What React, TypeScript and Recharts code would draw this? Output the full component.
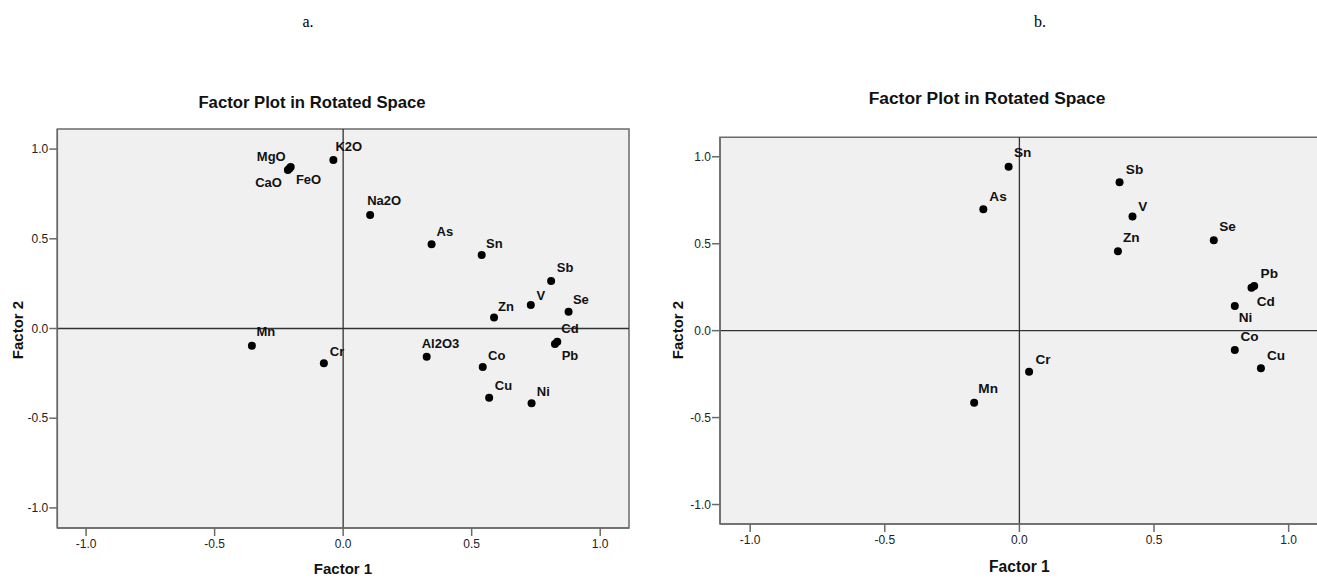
import { ScatterChart, Scatter, XAxis, YAxis, ReferenceArea, ReferenceLine } from 'recharts';

// panel a: loadings of oxides + trace elements
const NAMES_A = ['K2O', 'MgO', 'FeO', 'CaO', 'Na2O', 'As', 'Sn', 'Sb', 'V', 'Se', 'Zn', 'Cd', 'Pb', 'Al2O3', 'Co', 'Cu', 'Ni', 'Mn', 'Cr'];
const F1_A = [-0.038, -0.204, -0.209, -0.215, 0.105, 0.344, 0.539, 0.809, 0.730, 0.877, 0.587, 0.833, 0.824, 0.325, 0.543, 0.568, 0.733, -0.355, -0.075];
const F2_A = [0.939, 0.900, 0.892, 0.884, 0.633, 0.469, 0.410, 0.265, 0.131, 0.094, 0.062, -0.074, -0.086, -0.157, -0.215, -0.386, -0.417, -0.096, -0.194];

// panel b: trace elements only
const NAMES_B = ['Sn', 'As', 'Sb', 'V', 'Zn', 'Se', 'Pb', 'Cd', 'Ni', 'Co', 'Cu', 'Cr', 'Mn'];
const F1_B = [-0.040, -0.134, 0.372, 0.420, 0.366, 0.722, 0.872, 0.862, 0.800, 0.800, 0.897, 0.036, -0.168];
const F2_B = [0.943, 0.698, 0.853, 0.656, 0.457, 0.520, 0.257, 0.247, 0.142, -0.111, -0.216, -0.237, -0.414];

const TICKS = [-1, -0.5, 0, 0.5, 1];
const DOMAIN: [number, number] = [-1.112, 1.112];

// label offsets [dx, dy, anchor] relative to the dot
type Pos = [number, number, 'start' | 'end'];
const LABELS_A: Record<string, Pos> = {
  K2O: [2, -9.5, 'start'],
  MgO: [-5, -6.4, 'end'],
  CaO: [-6, 17.3, 'end'],
  FeO: [6.5, 15.5, 'start'],
  Na2O: [-3, -9.5, 'start'],
  As: [5, -8, 'start'],
  Sn: [4.3, -7, 'start'],
  Sb: [5.7, -8.7, 'start'],
  V: [5.7, -5.4, 'start'],
  Se: [4.3, -7.7, 'start'],
  Zn: [4, -6.7, 'start'],
  Cd: [4, -8.7, 'start'],
  Pb: [6.7, 15.6, 'start'],
  Al2O3: [-5, -8.5, 'start'],
  Co: [5.3, -7.3, 'start'],
  Cu: [5.7, -8, 'start'],
  Ni: [5.3, -7, 'start'],
  Mn: [4.6, -9.3, 'start'],
  Cr: [6, -7, 'start'],
};
const LABELS_B: Record<string, Pos> = {
  Sn: [5.4, -9.4, 'start'],
  As: [6, -8, 'start'],
  Sb: [6.3, -8.3, 'start'],
  V: [5.8, -5.4, 'start'],
  Zn: [5, -8.7, 'start'],
  Se: [5.5, -9, 'start'],
  Pb: [6.4, -8, 'start'],
  Cd: [5.3, 18, 'start'],
  Ni: [4, 16, 'start'],
  Co: [5.7, -9, 'start'],
  Cu: [6, -8.7, 'start'],
  Cr: [6.3, -8, 'start'],
  Mn: [4.2, -9.7, 'start'],
};

const FONT = '"Liberation Sans", Arial, sans-serif';
const BOX = '#6a6a6a';

const toRows = (names: string[], f1: number[], f2: number[]) =>
  names.map((name, i) => ({ name, x: f1[i], y: f2[i] }));

function makeShape(labels: Record<string, Pos>, fontSize: number) {
  return (p: any) => {
    const name = p.payload?.name ?? p.name;
    const [dx, dy, anchor] = labels[name] ?? [5, -8, 'start'];
    return (
      <g>
        <circle cx={p.cx} cy={p.cy} r={4} fill="#000" />
        <text x={p.cx + dx} y={p.cy + dy} textAnchor={anchor} fontFamily={FONT} fontWeight="bold" fontSize={fontSize} fill="#111">
          {name}
        </text>
      </g>
    );
  };
}

interface PanelProps {
  rows: { name: string; x: number; y: number }[];
  labels: Record<string, Pos>;
  width: number;
  margin: { top: number; right: number; bottom: number; left: number };
  yWidth: number;
  tickMargin: number;
  labelSize: number;
}

function Panel({ rows, labels, width, margin, yWidth, tickMargin, labelSize }: PanelProps) {
  const tickStyle = { fill: '#222', fontSize: 12, fontFamily: FONT };
  return (
    <ScatterChart width={width} height={581} margin={margin}>
      <XAxis
        type="number"
        dataKey="x"
        domain={DOMAIN}
        ticks={TICKS}
        allowDataOverflow
        tickFormatter={(v: number) => v.toFixed(1)}
        tickSize={8}
        tickMargin={tickMargin}
        height={40}
        tick={tickStyle}
        axisLine={{ stroke: BOX, strokeWidth: 1.5 }}
        tickLine={{ stroke: BOX, strokeWidth: 1.5 }}
      />
      <YAxis
        type="number"
        dataKey="y"
        domain={DOMAIN}
        ticks={TICKS}
        allowDataOverflow
        tickFormatter={(v: number) => v.toFixed(1)}
        tickSize={8}
        tickMargin={1}
        width={yWidth}
        tick={tickStyle}
        axisLine={{ stroke: BOX, strokeWidth: 1.5 }}
        tickLine={{ stroke: BOX, strokeWidth: 1.5 }}
      />
      <ReferenceArea x1={DOMAIN[0]} x2={DOMAIN[1]} y1={DOMAIN[0]} y2={DOMAIN[1]} fill="#f0f0f0" fillOpacity={1} stroke={BOX} strokeWidth={1.5} />
      <ReferenceLine x={0} stroke="#333" strokeWidth={1.3} />
      <ReferenceLine y={0} stroke="#333" strokeWidth={1.3} />
      <Scatter data={rows} shape={makeShape(labels, labelSize)} isAnimationActive={false} />
    </ScatterChart>
  );
}

export default function App() {
  const rowsA = toRows(NAMES_A, F1_A, F2_A);
  const rowsB = toRows(NAMES_B, F1_B, F2_B);
  return (
    <div style={{ position: 'absolute', left: 0, top: 0, width: 1317, height: 581, overflow: 'hidden', background: '#fff' }}>
      <div style={{ position: 'absolute', left: 0, top: 0 }}>
        <Panel
          rows={rowsA}
          labels={LABELS_A}
          width={660}
          margin={{ top: 129, right: 31, bottom: 13, left: 0 }}
          yWidth={57.3}
          tickMargin={3.5}
          labelSize={13}
        />
      </div>
      <div style={{ position: 'absolute', left: 660, top: 0 }}>
        <Panel
          rows={rowsB}
          labels={LABELS_B}
          width={680}
          margin={{ top: 137.3, right: 21.2, bottom: 17, left: 0 }}
          yWidth={60}
          tickMargin={3}
          labelSize={13.6}
        />
      </div>
      <svg width={1317} height={581} style={{ position: 'absolute', left: 0, top: 0, pointerEvents: 'none' }}>
        <text x={308} y={27} textAnchor="middle" fontFamily='"Liberation Serif", "Times New Roman", serif' fontSize={16}>a.</text>
        <text x={1040} y={27} textAnchor="middle" fontFamily='"Liberation Serif", "Times New Roman", serif' fontSize={16}>b.</text>
        <text x={312} y={108} textAnchor="middle" fontFamily={FONT} fontWeight="bold" fontSize={16.7} fill="#111">Factor Plot in Rotated Space</text>
        <text x={987} y={103.5} textAnchor="middle" fontFamily={FONT} fontWeight="bold" fontSize={17.4} fill="#111">Factor Plot in Rotated Space</text>
        <text x={343} y={573.5} textAnchor="middle" fontFamily={FONT} fontWeight="bold" fontSize={15} fill="#111">Factor 1</text>
        <text x={1019.4} y={572} textAnchor="middle" fontFamily={FONT} fontWeight="bold" fontSize={15.6} fill="#111">Factor 1</text>
        <text transform="translate(23.2,330) rotate(-90)" textAnchor="middle" fontFamily={FONT} fontWeight="bold" fontSize={15} fill="#111">Factor 2</text>
        <text transform="translate(683,330) rotate(-90)" textAnchor="middle" fontFamily={FONT} fontWeight="bold" fontSize={15} fill="#111">Factor 2</text>
      </svg>
    </div>
  );
}
